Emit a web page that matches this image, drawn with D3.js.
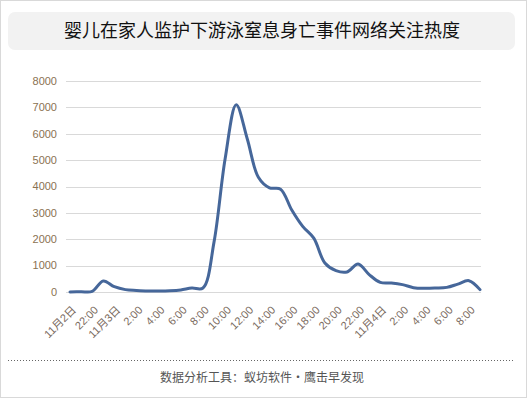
<!DOCTYPE html>
<html>
<head>
<meta charset="utf-8">
<script src="https://cdn.jsdelivr.net/npm/d3@7"></script>
<style>
  html, body { margin: 0; padding: 0; background: #fff; }
  svg { display: block; }
</style>
</head>
<body>
<div id="chart"></div>
<script>
// Hourly attention, from 11-02 20:00 to 11-04 09:00
const hours = d3.range(38);
const values = [
  0, 10, 20, 420, 200, 90, 60, 40, 40, 50,
  80, 150, 150, 1900, 5050, 7100, 5800, 4350, 3950, 3900,
  3120, 2490, 2040, 1100, 810, 760, 1060, 660, 365, 340,
  280, 165, 140, 150, 175, 300, 430, 90
];
const tickLabels = [
  '11月2日', '22:00', '11月3日', '2:00', '4:00', '6:00', '8:00', '10:00',
  '12:00', '14:00', '16:00', '18:00', '20:00', '22:00', '11月4日',
  '2:00', '4:00', '6:00', '8:00'
];
const yTicks = [0, 1000, 2000, 3000, 4000, 5000, 6000, 7000, 8000];

const title = '婴儿在家人监护下游泳窒息身亡事件网络关注热度';
const source = '数据分析工具：蚁坊软件·鹰击早发现';

const W = 527, H = 398;
const font = '"Liberation Sans", "Noto Sans CJK SC", sans-serif';

const svg = d3.select('#chart')
  .append('svg')
  .attr('width', W)
  .attr('height', H)
  .style('font-family', font);

// outer frame
svg.append('rect')
  .attr('x', 0.5).attr('y', 0.5)
  .attr('width', W - 1).attr('height', H - 1)
  .attr('fill', '#fff')
  .attr('stroke', '#d9d9d9');

// title box
svg.append('rect')
  .attr('x', 8).attr('y', 12)
  .attr('width', 507).attr('height', 38)
  .attr('rx', 7)
  .attr('fill', '#f2f2f2');

svg.append('text')
  .attr('x', 262).attr('y', 37)
  .attr('text-anchor', 'middle')
  .style('font-family', '"Noto Sans CJK SC", sans-serif')
  .style('font-size', '18px')
  .attr('fill', '#111')
  .text(title);

// scales
const x = d3.scalePoint()
  .domain(hours)
  .range([70, 480]);

const y = d3.scaleLinear()
  .domain([0, 8000])
  .range([292, 81]);

// gridlines + y labels
const grid = svg.append('g');
grid.selectAll('line')
  .data(yTicks)
  .enter()
  .append('line')
  .attr('x1', 66).attr('x2', 481)
  .attr('y1', d => Math.round(y(d)) + 0.5)
  .attr('y2', d => Math.round(y(d)) + 0.5)
  .attr('stroke', '#d9d9d9');

grid.selectAll('text')
  .data(yTicks)
  .enter()
  .append('text')
  .attr('x', 57)
  .attr('y', d => y(d))
  .attr('dy', '0.35em')
  .attr('text-anchor', 'end')
  .style('font-size', '11px')
  .attr('fill', '#8a7252')
  .text(d => d);

// x labels, every two hours
const xl = svg.append('g');
xl.selectAll('text')
  .data(tickLabels)
  .enter()
  .append('text')
  .attr('transform', (d, i) => `translate(${x(hours[i * 2]) + 4},${308}) rotate(-45)`)
  .attr('text-anchor', 'end')
  .attr('dy', '0.35em')
  .style('font-size', '11px')
  .attr('fill', '#7a6a5e')
  .text(d => d);

// line
const line = d3.line()
  .x((d, i) => x(hours[i]))
  .y(d => y(d))
  .curve(d3.curveCatmullRom.alpha(0.5));

svg.append('path')
  .datum(values)
  .attr('fill', 'none')
  .attr('stroke', '#46679a')
  .attr('stroke-width', 3)
  .attr('stroke-linejoin', 'round')
  .attr('stroke-linecap', 'round')
  .attr('d', line);

// footer
svg.append('line')
  .attr('x1', 8).attr('x2', 515)
  .attr('y1', 360.5).attr('y2', 360.5)
  .attr('stroke', '#666')
  .attr('stroke-dasharray', '1,2');

svg.append('text')
  .attr('x', 262).attr('y', 382)
  .attr('text-anchor', 'middle')
  .style('font-family', '"Noto Sans CJK SC", sans-serif')
  .style('font-size', '12px')
  .attr('fill', '#555')
  .text(source);
</script>
</body>
</html>
